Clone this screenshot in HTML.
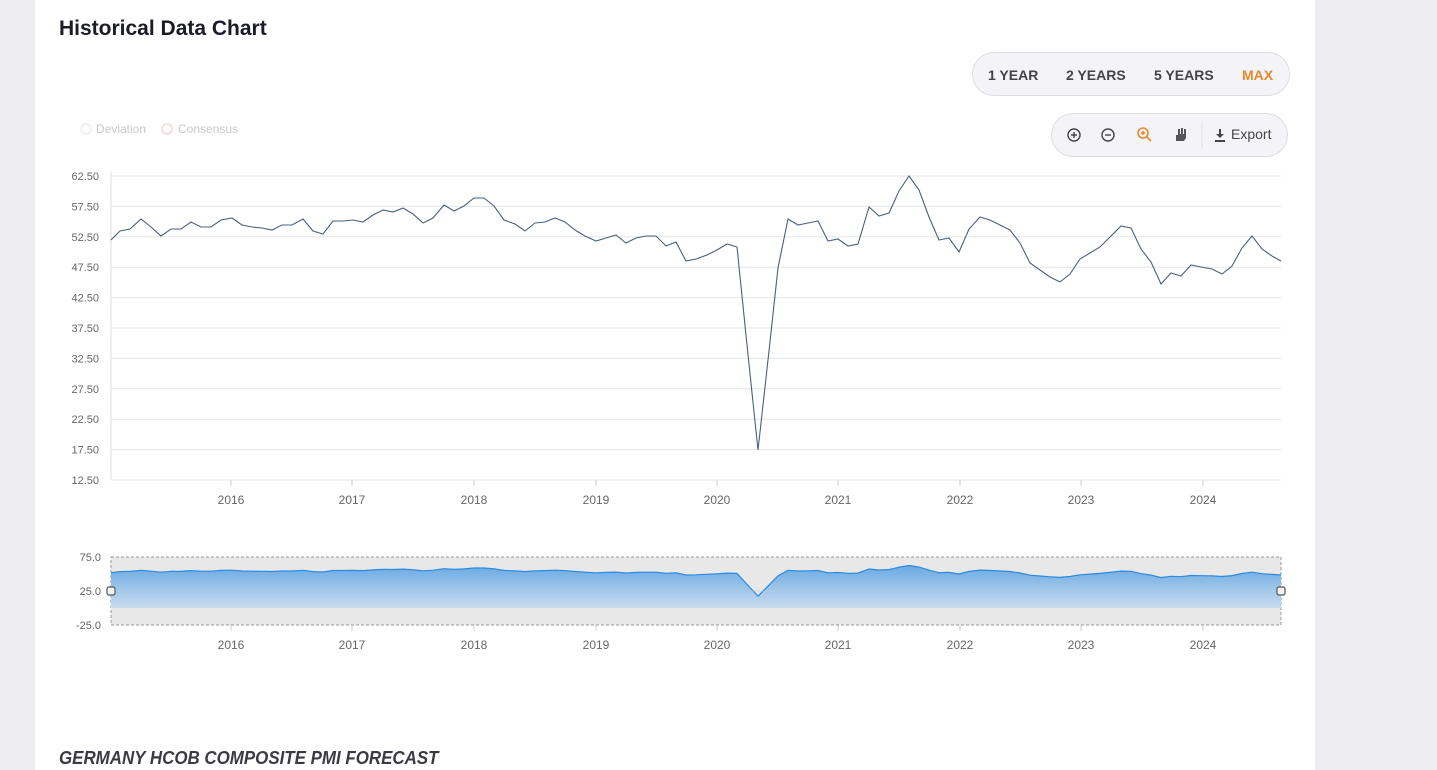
<!DOCTYPE html>
<html><head><meta charset="utf-8"><style>
body{margin:0;width:1437px;height:770px;background:#ececf1;font-family:"Liberation Sans",sans-serif;overflow:hidden;position:relative}
.card{position:absolute;left:35px;top:0;width:1280px;height:770px;background:#fff}
h1{position:absolute;left:59px;top:17px;margin:0;font-size:21px;font-weight:bold;color:#1c1c28}
.range{position:absolute;left:972px;top:52px;width:318px;height:44px;border:1px solid #ddd;border-radius:23px;background:#f4f4f8;box-sizing:border-box;font-size:14px;font-weight:bold;color:#444}
.range span{position:absolute;top:14px}
.tools{position:absolute;left:1051px;top:113px;width:237px;height:44px;border:1px solid #ddd;border-radius:23px;background:#f4f4f8;box-sizing:border-box}
.foot{position:absolute;left:59px;top:748px;font-size:18px;font-weight:bold;font-style:italic;color:#3a3a44;transform:scaleX(0.94);transform-origin:left top;white-space:nowrap}
svg{position:absolute;left:0;top:0}
</style></head><body>
<div class="card"></div>
<h1>Historical Data Chart</h1>
<div class="range"><span style="left:15px">1 YEAR</span><span style="left:93px">2 YEARS</span><span style="left:181px">5 YEARS</span><span style="left:269px;color:#e8892a">MAX</span></div>
<div class="tools"></div>
<div class="foot">GERMANY HCOB COMPOSITE PMI FORECAST</div>
<svg id="s" width="1437" height="770" font-family="Liberation Sans, sans-serif">
<defs><linearGradient id="g" x1="0" y1="0" x2="0" y2="1"><stop offset="0" stop-color="#6aa9e4"/><stop offset="1" stop-color="#c9dcee"/></linearGradient></defs>
<g fill="none" stroke-width="1.5">
<circle cx="86" cy="129" r="5" stroke="#f4eaea"/><circle cx="167" cy="129" r="5" stroke="#f2d8d4"/>
</g>
<text x="96" y="133" font-size="12" fill="#c8c8c8">Deviation</text>
<text x="178" y="133" font-size="12" fill="#c8c8c8">Consensus</text>
<g stroke="#444" stroke-width="1.4" fill="none">
<circle cx="1074" cy="135" r="6"/><path d="M1071 135h6M1074 132v6"/>
<circle cx="1108" cy="135" r="6"/><path d="M1105 135h6"/>
</g>
<g stroke="#e8892a" stroke-width="1.6" fill="none"><circle cx="1143" cy="133" r="5"/><path d="M1147 137l4 4M1141 133h4M1143 131v4"/></g>
<path d="M1176 141v-6h2v-6h2v5h1v-6h2v6h1v-5h2v9l-2 3h-6z" fill="#555"/>
<line x1="1202" y1="121" x2="1202" y2="149" stroke="#e2e2e2"/>
<path d="M1215 140h10v2h-10zM1219 129h2v5h3l-4 4-4-4h3z" fill="#444"/>
<text x="1231" y="139" font-size="14" fill="#444">Export</text>
<g id="main"></g>
</svg>
<script>
const P=[[111,240],[120,231],[130,229],[141,219],[151,227],[161,236],[171,229],[181,229],[191,222],[201,227],[211,227],[221,220],[232,218],[242,225],[252,227],[262,228],[272,230],[282,225],[292,225],[303,219],[313,231],[323,234],[333,221],[343,221],[353,220],[363,222],[373,215],[383,210],[393,212],[403,208],[413,214],[423,223],[433,218],[444,205],[454,211],[464,206],[474,198],[484,198],[494,206],[504,220],[515,224],[525,231],[535,223],[545,222],[555,218],[565,222],[575,230],[585,236],[596,241],[606,238],[616,235],[626,243],[636,238],[646,236],[656,236],[666,246],[676,242],[686,261],[696,259],[707,255],[717,250],[727,244],[737,247],[747,345],[758,450],[768,360],[778,268],[788,219],[798,225],[808,223],[818,221],[828,241],[838,239],[848,246],[858,244],[869,207],[879,216],[889,213],[899,191],[909,176],[919,190],[929,217],[939,240],[949,238],[959,252],[969,229],[980,217],[990,220],[1000,225],[1010,230],[1020,243],[1030,263],[1040,270],[1050,277],[1060,282],[1070,274],[1080,259],[1090,253],[1100,247],[1111,236],[1121,226],[1131,228],[1141,249],[1151,262],[1161,284],[1171,273],[1181,276],[1191,265],[1201,267],[1212,269],[1222,274],[1232,266],[1242,248],[1252,236],[1262,249],[1272,256],[1281,261]];
let h='';
const labs=['62.50','57.50','52.50','47.50','42.50','37.50','32.50','27.50','22.50','17.50','12.50'];
labs.forEach((l,i)=>{const y=176+i*30.4;h+=`<line x1="111" x2="1281" y1="${y}" y2="${y}" stroke="#e6e6e6"/><text x="99" y="${y+4}" font-size="11" fill="#666" text-anchor="end">${l}</text>`;});
h+=`<line x1="111" x2="111" y1="172" y2="480" stroke="#ddd"/>`;
const yrs=[[231,'2016'],[352,'2017'],[474,'2018'],[596,'2019'],[717,'2020'],[838,'2021'],[960,'2022'],[1081,'2023'],[1203,'2024']];
yrs.forEach(([x,t])=>{h+=`<line x1="${x}" x2="${x}" y1="480" y2="486" stroke="#ccc"/><text x="${x}" y="504" font-size="12" fill="#666" text-anchor="middle">${t}</text>`;
h+=`<line x1="${x}" x2="${x}" y1="625" y2="631" stroke="#ccc"/><text x="${x}" y="649" font-size="12" fill="#666" text-anchor="middle">${t}</text>`;});
h+=`<polyline fill="none" stroke="#4a5f80" stroke-width="1.1" points="${P.map(p=>p.join(',')).join(' ')}"/>`;
h+=`<rect x="111" y="557" width="1170" height="68" fill="#e8e8e8" stroke="#999" stroke-dasharray="3,2"/>`;
const N=P.map(([x,y])=>[x,565.5+(y-176)*0.1118]);
h+=`<polygon fill="url(#g)" points="111,608 ${N.map(p=>p[0]+','+p[1].toFixed(1)).join(' ')} 1281,608"/>`;
h+=`<polyline fill="none" stroke="#2a8ae0" stroke-width="1.2" points="${N.map(p=>p[0]+','+p[1].toFixed(1)).join(' ')}"/>`;
h+=`<line x1="111" x2="1281" y1="591" y2="591" stroke="#bcc8d4" stroke-opacity=".5"/>`;
[['75.0',557],['25.0',591],['-25.0',625]].forEach(([t,y])=>{h+=`<text x="101" y="${y+4}" font-size="11" fill="#666" text-anchor="end">${t}</text>`;});
h+=`<rect x="107" y="587" width="8" height="8" rx="2" fill="#f2f2f2" stroke="#555" stroke-width="1.2"/><rect x="1277" y="587" width="8" height="8" rx="2" fill="#f2f2f2" stroke="#555" stroke-width="1.2"/>`;
document.getElementById('main').innerHTML=h;
</script>
</body></html>
